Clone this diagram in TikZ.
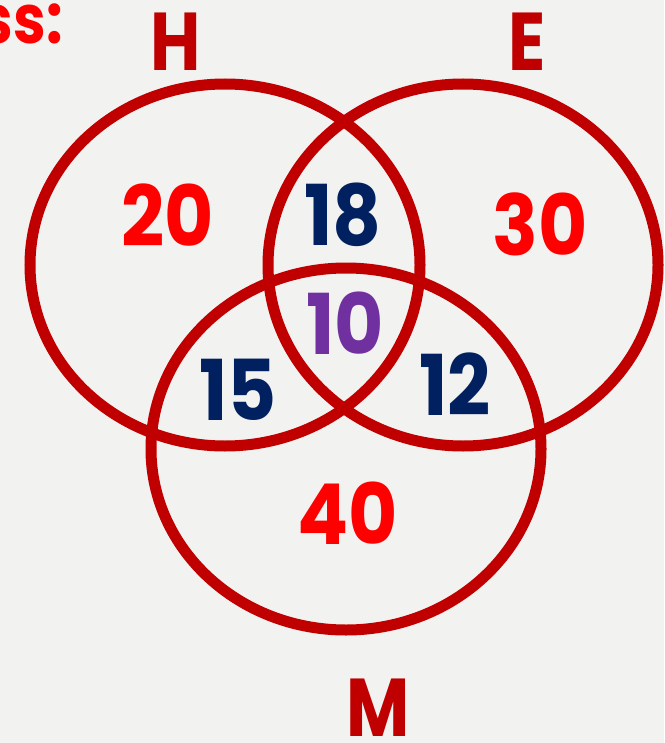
\documentclass[tikz,border=0pt]{standalone}
\usepackage{graphicx}
\usepackage{fontspec}
\setmainfont{Poppins}
\definecolor{ring}{HTML}{C00000}
\definecolor{brightred}{HTML}{FF0000}
\definecolor{navy}{HTML}{002060}
\definecolor{violet}{HTML}{7030A0}
\definecolor{bg}{HTML}{F2F2F0}
\newcommand{\narrownum}[1]{\scalebox{0.9}[1]{#1}}
\newcommand{\narrowlet}[1]{\scalebox{0.84}[1]{#1}}
\begin{document}
\begin{tikzpicture}[x=1pt,y=-1pt,
  ringline/.style={draw=ring,line width=11pt},
  num/.style={inner sep=0pt,font=\fontsize{84}{84}\selectfont\bfseries},
  setlabel/.style={inner sep=0pt,text=ring,font=\fontsize{82}{82}\selectfont\bfseries}]
\fill[bg] (0,0) rectangle (664,743);
\useasboundingbox (0,0) rectangle (664,743);
\clip (0,0) rectangle (664,743);
\draw[ringline] (225,265) ellipse [x radius=195, y radius=181];
\draw[ringline] (463,265) ellipse [x radius=195, y radius=181];
\draw[ringline] (346,449) ellipse [x radius=195, y radius=181];
\node[setlabel] (lh) at (176,42) {\narrowlet{H}};
\node[setlabel] (le) at (527,42) {\narrowlet{E}};
\node[setlabel] (lm) at (378,708) {\narrowlet{M}};
\node[inner sep=0pt,anchor=east,text=brightred,font=\fontsize{68}{68}\selectfont\bfseries] (ss) at (63,24) {\scalebox{0.86}[1]{ss:}};
\node[num,text=brightred] (n20) at (168,215) {\narrownum{20}};
\node[num,text=navy] (n18) at (343,215) {\narrownum{18}};
\node[num,text=brightred] (n30) at (540,224) {\narrownum{30}};
\node[num,text=violet] (n10) at (345,323) {\narrownum{10}};
\node[num,text=navy] (n15) at (238,390) {\narrownum{15}};
\node[num,text=navy] (n12) at (455,384) {\narrownum{12}};
\node[num,text=brightred] (n40) at (348,513) {\narrownum{40}};
\end{tikzpicture}
\end{document}
